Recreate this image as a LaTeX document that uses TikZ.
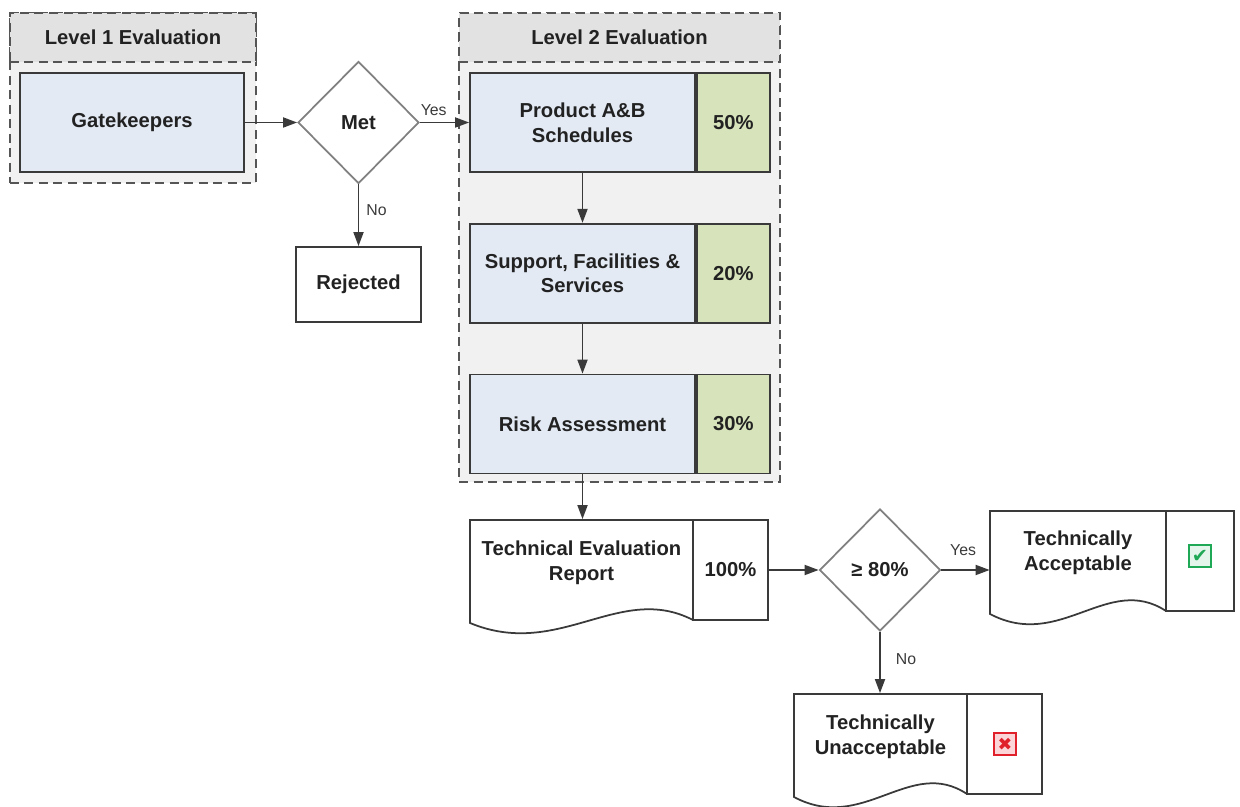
\documentclass[tikz,border=0pt]{standalone}
\usepackage{fontspec}
\setmainfont{Liberation Sans}
\newfontfamily\markfont{DejaVu Sans}
\usetikzlibrary{arrows.meta,positioning,shapes.geometric}
\definecolor{boxblue}{HTML}{E3EAF4}
\definecolor{pctgreen}{HTML}{D7E4BB}
\definecolor{headgray}{HTML}{E2E2E2}
\definecolor{bodygray}{HTML}{F1F1F1}
\definecolor{framegray}{HTML}{555555}
\definecolor{edgegray}{HTML}{3A3A3A}
\definecolor{diagray}{HTML}{808080}
\definecolor{inkgray}{HTML}{222222}
\definecolor{okgreen}{HTML}{1FA855}
\definecolor{badred}{HTML}{E0202A}
\definecolor{badpink}{HTML}{FBD5D8}
\tikzset{
  frame/.style={draw=framegray, line width=1.3pt, dash pattern=on 1.8mm off 1.1mm, fill=bodygray, inner sep=0pt},
  outline/.style={draw=edgegray, line width=1pt, inner sep=0pt, align=center},
  stage/.style={outline, fill=boxblue, minimum width=45mm, minimum height=19.8mm},
  weight/.style={outline, fill=pctgreen, minimum width=14.6mm, minimum height=19.8mm},
  decision/.style={diamond, draw=diagray, line width=1pt, fill=white, minimum width=24.2mm, minimum height=24.4mm, inner sep=0pt},
  flow/.style={draw=edgegray, line width=1pt, -{Triangle[length=2.8mm,width=2mm]}},
  answer/.style={font=\fontsize{9}{10}\selectfont, text=edgegray, inner sep=0pt},
  doctext/.style={align=center, inner sep=0pt},
  okmark/.style={draw=okgreen, line width=1.6pt, fill=okgreen!12, minimum size=4.4mm, inner sep=0pt, text=okgreen, font=\fontsize{11}{11}\selectfont\markfont},
  badmark/.style={draw=badred, line width=1.6pt, fill=badpink, minimum size=4.4mm, inner sep=0pt, text=badred, font=\fontsize{10}{10}\selectfont\markfont}
}
\def\docpage(#1:#2:#3:#4){\draw[outline] (#2,#3) -- (#1,#3) -- (#1,#4+3) .. controls ({#1+0.4*(#2-#1)},#4+40) and ({#1+0.67*(#2-#1)},#4-38) .. (#2,#4);}

\begin{document}
\begin{tikzpicture}[x=0.2mm, y=-0.2mm, font=\fontsize{11.5}{14}\selectfont\bfseries, text=inkgray]
  \useasboundingbox (0,0) rectangle (1240,807);

  % level 1
  \node[frame, minimum width=49.2mm, minimum height=34mm] (lvlone) at (133,98) {};
  \node[frame, fill=headgray, minimum width=49.2mm, minimum height=9.8mm] (lvlonehead) at (133,37.5) {Level 1 Evaluation};
  \node[stage, minimum width=44.8mm] (gate) at (132,122.5) {Gatekeepers};
  \node[decision] (met) at (358.5,122.5) {Met};
  \node[outline, fill=white, minimum width=25mm, minimum height=15mm] (rej) at (358.5,284.5) {Rejected};

  % level 2
  \node[frame, minimum width=64.2mm, minimum height=93.8mm] (lvltwo) at (619.5,247.5) {};
  \node[frame, fill=headgray, minimum width=64.2mm, minimum height=9.8mm] (lvltwohead) at (619.5,37.5) {Level 2 Evaluation};
  \node[stage] (prod) at (582.5,122.5) {Product A\&B\\Schedules};
  \node[weight, right=0pt of prod] (prodpct) {50\%};
  \node[stage, below=10mm of prod] (supp) {Support, Facilities \&\\Services};
  \node[weight, right=0pt of supp] (supppct) {20\%};
  \node[stage, below=10mm of supp] (risk) {Risk Assessment};
  \node[weight, right=0pt of risk] (riskpct) {30\%};

  % report
  \docpage(470:693:520:620)
  \node[outline, minimum width=15mm, minimum height=20mm] (techpct) at (730.5,570) {100\%};
  \node[doctext, minimum width=44.6mm] (tech) at (581.5,563) {Technical Evaluation\\Report};
  \node[decision] (ge) at (880,570) {≥ 80\%};

  % outcomes
  \docpage(990:1166:511:611)
  \node[outline, minimum width=13.6mm, minimum height=20mm] (okpct) at (1200,561) {};
  \node[doctext, minimum width=35.2mm] (ok) at (1078,553) {Technically\\Acceptable};
  \node[okmark] (okbox) at (1200,556) {✔};

  \docpage(794:967:694:794)
  \node[outline, minimum width=15mm, minimum height=20mm] (badpct) at (1004.5,744) {};
  \node[doctext, minimum width=34.6mm] (bad) at (880.5,737) {Technically\\Unacceptable};
  \node[badmark] (badbox) at (1005,744) {✖};

  % connectors
  \draw[flow] (gate) -- (met);
  \draw[flow] (met) -- node[answer, above=1.2mm, pos=0.28] (metyes) {Yes} (prod);
  \draw[flow] (met) -- node[answer, right=1.4mm, pos=0.42] (metno) {No} (rej);
  \draw[flow] (prod) -- (supp);
  \draw[flow] (supp) -- (risk);
  \draw[flow] (risk) -- (risk |- techpct.north);
  \draw[flow] (techpct) -- (ge);
  \draw[flow] (ge) -- node[answer, above=2.6mm, pos=0.45] (geyes) {Yes} (ge -| ok.west);
  \draw[flow] (ge) -- node[answer, right=3mm, pos=0.45] (geno) {No} (ge |- badpct.north);
\end{tikzpicture}
\end{document}
